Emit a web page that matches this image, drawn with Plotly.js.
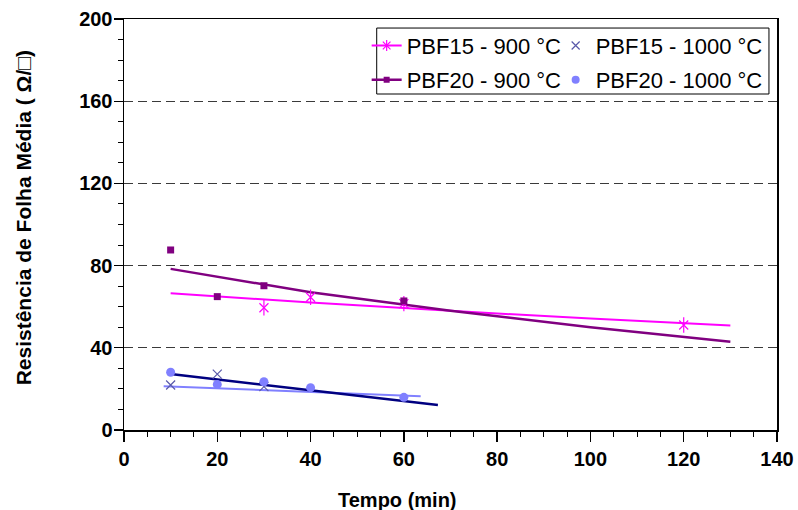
<!DOCTYPE html>
<html>
<head>
<meta charset="utf-8">
<script src="https://cdn.plot.ly/plotly-3.0.1.min.js"></script>
<style>html,body{margin:0;padding:0;background:#fff;}#chart{width:798px;height:510px;}</style>
</head>
<body>
<div id="chart"></div>
<script>
// Measured points
var pbf15_900_t = [30, 40, 60, 120];
var pbf15_900_r = [59.5, 64.6, 61.5, 51.1];
var pbf15_1000_t = [10, 20, 30];
var pbf15_1000_r = [21.9, 27.2, 21.1];
var pbf20_900_t = [10, 20, 30, 60];
var pbf20_900_r = [87.6, 64.9, 70.2, 62.8];
var pbf20_1000_t = [10, 20, 30, 40, 60];
var pbf20_1000_r = [28.1, 22.2, 23.5, 20.6, 15.9];

// Trend lines
var trend15_900_t = [10, 40, 70, 100, 130];
var trend15_900_r = [66.6, 62.0, 58.0, 54.2, 50.8];
var trend20_900_t = [10, 40, 70, 100, 130];
var trend20_900_r = [78.4, 67.0, 58.0, 50.0, 42.9];
var trendNavy_t = [10, 67.3];
var trendNavy_r = [27.2, 12.2];
var trendLight_t = [8.5, 63.6];
var trendLight_r = [21.3, 16.4];

var seriesNames = ['PBF15 - 900 °C', 'PBF15 - 1000 °C', 'PBF20 - 900 °C', 'PBF20 - 1000 °C'];
var xTitle = 'Tempo (min)';
var yTitle = 'Resistência de Folha Média ( Ω/□)';

var MAG = '#FF00FF', PUR = '#800080', NAVY = '#000080', LIGHT = '#8080FF', XCOL = '#5a5aaa';
var FONT = 'Liberation Sans, Arial, sans-serif';

var traces = [
  {x: trend15_900_t, y: trend15_900_r, mode: 'lines', line: {color: MAG, width: 2}, showlegend: false, hoverinfo: 'skip'},
  {x: trend20_900_t, y: trend20_900_r, mode: 'lines', line: {color: PUR, width: 2.5}, showlegend: false, hoverinfo: 'skip'},
  {x: trendLight_t, y: trendLight_r, mode: 'lines', line: {color: LIGHT, width: 2}, showlegend: false, hoverinfo: 'skip'},
  {x: trendNavy_t, y: trendNavy_r, mode: 'lines', line: {color: NAVY, width: 2.5}, showlegend: false, hoverinfo: 'skip'},
  // markers
  {x: pbf15_900_t, y: pbf15_900_r, mode: 'markers', marker: {symbol: 'x-thin-open', size: 9, color: MAG, line: {color: MAG, width: 1.2}}, showlegend: false},
  {x: pbf15_900_t, y: pbf15_900_r, mode: 'markers', marker: {symbol: 'line-ns-open', size: 11, color: MAG, line: {color: MAG, width: 1.2}}, showlegend: false},
  {x: pbf15_1000_t, y: pbf15_1000_r, mode: 'markers', marker: {symbol: 'x-thin-open', size: 9, color: XCOL, line: {color: XCOL, width: 1.2}}, showlegend: false},
  {x: pbf20_900_t, y: pbf20_900_r, mode: 'markers', marker: {symbol: 'square', size: 7, color: PUR}, showlegend: false},
  {x: pbf20_1000_t, y: pbf20_1000_r, mode: 'markers', marker: {symbol: 'circle', size: 9, color: LIGHT}, showlegend: false},
  // legend entries
  {x: [null], y: [null], name: seriesNames[0], mode: 'lines+markers', line: {color: MAG, width: 2}, marker: {symbol: 'asterisk-open', size: 9, color: MAG, line: {color: MAG, width: 1.2}}, legend: 'legend', legendwidth: 144},
  {x: [null], y: [null], name: seriesNames[1], mode: 'markers', marker: {symbol: 'x-thin-open', size: 8, color: XCOL, line: {color: XCOL, width: 1.2}}, legend: 'legend', legendwidth: 172},
  {x: [null], y: [null], name: seriesNames[2], mode: 'lines+markers', line: {color: PUR, width: 2.5}, marker: {symbol: 'square', size: 6, color: PUR}, legend: 'legend2', legendwidth: 144},
  {x: [null], y: [null], name: seriesNames[3], mode: 'markers', marker: {symbol: 'circle', size: 8, color: LIGHT}, legend: 'legend2', legendwidth: 172}
];

var legendCommon = {
  orientation: 'h', xanchor: 'left', yanchor: 'middle', x: 0.3716,
  bgcolor: 'rgba(0,0,0,0)', borderwidth: 0,
  font: {family: FONT, size: 22, color: '#000'},
  entrywidthmode: 'pixels', itemclick: false, traceorder: 'normal'
};

var layout = {
  width: 798, height: 510,
  margin: {l: 124, r: 21, t: 19, b: 80, autoexpand: false},
  paper_bgcolor: '#fff', plot_bgcolor: '#fff',
  font: {family: FONT, color: '#000'},
  xaxis: {
    range: [0, 140], tickmode: 'linear', tick0: 0, dtick: 20,
    ticks: 'outside', ticklen: 10, tickwidth: 1.3, tickcolor: '#000',
    minor: {dtick: 5, ticks: 'outside', ticklen: 5, tickwidth: 1, tickcolor: '#000', showgrid: false},
    showline: true, linecolor: '#000', linewidth: 1.5, mirror: true,
    showgrid: false, zeroline: false,
    tickfont: {family: FONT, size: 20, weight: 'bold', color: '#000'},
    automargin: false
  },
  yaxis: {
    range: [0, 200], tickmode: 'linear', tick0: 0, dtick: 40,
    ticks: 'outside', ticklen: 9, tickwidth: 1.3, tickcolor: '#000',
    minor: {dtick: 10, ticks: 'outside', ticklen: 5, tickwidth: 1, tickcolor: '#000', showgrid: false},
    showline: true, linecolor: '#000', linewidth: 1.5, mirror: true,
    showgrid: true, gridcolor: '#3a3a3a', gridwidth: 1, griddash: '9px,5px',
    zeroline: false, ticklabelstandoff: -3,
    tickfont: {family: FONT, size: 20, weight: 'bold', color: '#000'},
    automargin: false
  },
  annotations: [
    {text: xTitle, xref: 'paper', yref: 'paper', x: 0.419, y: -0.1703, xanchor: 'center', yanchor: 'middle',
     showarrow: false, font: {family: FONT, size: 20, weight: 'bold', color: '#000'}},
    {text: yTitle, xref: 'paper', yref: 'paper', x: -0.1525, y: 0.516, xanchor: 'center', yanchor: 'middle',
     textangle: -90, showarrow: false, font: {family: FONT, size: 21, weight: 'bold', color: '#000'}}
  ],
  legend: Object.assign({}, legendCommon, {y: 0.935}),
  legend2: Object.assign({}, legendCommon, {y: 0.8516}),
  shapes: [
    {type: 'rect', xref: 'paper', yref: 'paper', x0: 0.387, x1: 0.9877, y0: 0.8175, y1: 0.978,
     line: {color: '#000', width: 1}, fillcolor: 'rgba(0,0,0,0)', layer: 'above'}
  ],
  showlegend: true
};

Plotly.newPlot('chart', traces, layout, {displayModeBar: false, staticPlot: true});
</script>
</body>
</html>
